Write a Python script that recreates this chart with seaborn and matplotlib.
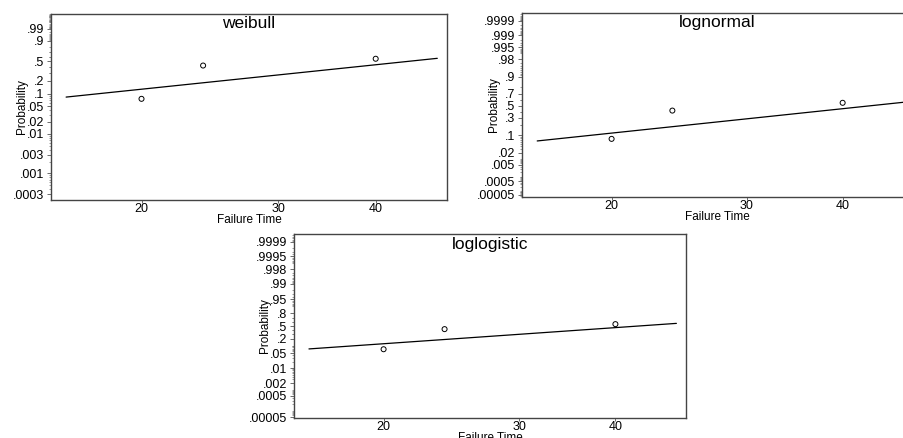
import math
import numpy as np
import pandas as pd
import matplotlib
matplotlib.use("Agg")
import matplotlib.pyplot as plt
import matplotlib.ticker as mticker
import seaborn as sns

# observed failure data (same in all three panels)
fail_time = [20, 24, 40]
fail_prob = [0.075, 0.42, 0.555]

# fitted lines, end points
line_time = [16, 48]
weibull_line = [0.0827, 0.564]
lognormal_line = [0.0629, 0.564]
loglogistic_line = [0.0774, 0.575]

weibull_ticks = [.0003, .001, .003, .01, .02, .05, .1, .2, .5, .9, .99]
weibull_labels = [".0003", ".001", ".003", ".01", ".02", ".05", ".1", ".2", ".5", ".9", ".99"]
lognormal_ticks = [.00005, .0005, .005, .02, .1, .3, .5, .7, .9, .98, .995, .999, .9999]
lognormal_labels = [".00005", ".0005", ".005", ".02", ".1", ".3", ".5", ".7", ".9", ".98", ".995", ".999", ".9999"]
loglogistic_ticks = [.00005, .0005, .002, .01, .05, .2, .5, .8, .95, .99, .998, .9995, .9999]
loglogistic_labels = [".00005", ".0005", ".002", ".01", ".05", ".2", ".5", ".8", ".95", ".99", ".998", ".9995", ".9999"]


def norm_ppf(p):
    p = np.clip(np.asarray(p, float), 1e-12, 1 - 1e-12)
    a = [-3.969683028665376e+01, 2.209460984245205e+02, -2.759285104469687e+02,
         1.383577518672690e+02, -3.066479806614716e+01, 2.506628277459239e+00]
    b = [-5.447609879822406e+01, 1.615858368580409e+02, -1.556989798598866e+02,
         6.680131188771972e+01, -1.328068155288572e+01]
    c = [-7.784894002430293e-03, -3.223964580411365e-01, -2.400758277161838e+00,
         -2.549732539343734e+00, 4.374664141464968e+00, 2.938163982698783e+00]
    d = [7.784695709041462e-03, 3.224671290700398e-01, 2.445134137142996e+00,
         3.754408661907416e+00]
    q = np.minimum(p, 1 - p)
    r = np.sqrt(-2 * np.log(q))
    tail = (((((c[0]*r+c[1])*r+c[2])*r+c[3])*r+c[4])*r+c[5]) / ((((d[0]*r+d[1])*r+d[2])*r+d[3])*r+1)
    tail = np.where(p < 0.5, tail, -tail)
    u = p - 0.5
    s = u * u
    cent = (((((a[0]*s+a[1])*s+a[2])*s+a[3])*s+a[4])*s+a[5])*u / (((((b[0]*s+b[1])*s+b[2])*s+b[3])*s+b[4])*s+1)
    return np.where(q < 0.02425, tail, cent)


_erf = np.vectorize(math.erf)


def norm_cdf(z):
    return 0.5 * (1 + _erf(np.asarray(z, float) / math.sqrt(2)))


def weib_fwd(p):
    p = np.clip(np.asarray(p, float), 1e-12, 1 - 1e-12)
    return np.log(-np.log1p(-p))


def weib_inv(w):
    return -np.expm1(-np.exp(np.asarray(w, float)))


def logit_fwd(p):
    p = np.clip(np.asarray(p, float), 1e-12, 1 - 1e-12)
    return np.log(p / (1 - p))


def logit_inv(z):
    return 1 / (1 + np.exp(-np.asarray(z, float)))


sns.set_style("white")
plt.rcParams["font.family"] = ["Liberation Sans", "DejaVu Sans"]
plt.rcParams["text.color"] = "black"
plt.rcParams["xtick.color"] = "black"
plt.rcParams["ytick.color"] = "black"
plt.rcParams["axes.labelcolor"] = "black"

W, H = 904, 438
fig = plt.figure(figsize=(W / 100, H / 100), dpi=100)


def px_axes(left, top, right, bottom):
    return fig.add_axes([left / W, (H - bottom) / H, (right - left) / W, (bottom - top) / H])


minor_p = sorted(set([k * 10.0 ** e for e in range(-5, 0) for k in range(1, 10)] +
                     [1 - k * 10.0 ** e for e in range(-5, 0) for k in range(1, 10)]))

panels = [
    ("weibull", (51, 14, 447, 200), (weib_fwd, weib_inv), (2.12e-4, 0.999984),
     weibull_line, weibull_ticks, weibull_labels),
    ("lognormal", (522.3, 12.7, 913, 196.7), (norm_ppf, norm_cdf), (3.6e-5, 0.9999775),
     lognormal_line, lognormal_ticks, lognormal_labels),
    ("loglogistic", (294, 234.3, 686, 417.7), (logit_fwd, logit_inv), (4.7e-5, 0.9999546),
     loglogistic_line, loglogistic_ticks, loglogistic_labels),
]

for name, box, funcs, ylim, fit, ticks, labels in panels:
    ax = px_axes(*box)
    ax.set_xscale("log")
    ax.set_yscale("function", functions=funcs)

    sns.lineplot(x=line_time, y=fit, ax=ax, color="black", linewidth=0.9)
    sns.scatterplot(x=fail_time, y=fail_prob, ax=ax, marker="o", s=13,
                    facecolor="none", edgecolor="black", linewidth=0.7)

    ax.set_xlim(15.3, 49.4)
    ax.set_ylim(*ylim)
    ax.xaxis.set_major_locator(mticker.FixedLocator([20, 30, 40]))
    ax.xaxis.set_major_formatter(mticker.FixedFormatter(["20", "30", "40"]))
    ax.xaxis.set_minor_locator(mticker.NullLocator())
    ax.yaxis.set_major_locator(mticker.FixedLocator(ticks))
    ax.yaxis.set_major_formatter(mticker.FixedFormatter(labels))
    ax.yaxis.set_minor_locator(mticker.FixedLocator([m for m in minor_p if ylim[0] < m < ylim[1]]))
    ax.yaxis.set_minor_formatter(mticker.NullFormatter())

    ax.tick_params(axis="y", which="major", length=3, width=0.6, color="#555555",
                   pad=2, labelsize=9, left=True)
    ax.tick_params(axis="y", which="minor", length=1.5, width=0.5, color="#777777", left=True)
    ax.tick_params(axis="x", which="major", length=2, width=0.6, color="#555555",
                   pad=0.5, labelsize=9, bottom=True)
    for sp in ax.spines.values():
        sp.set_color("#444444")
        sp.set_linewidth(1.0)

    height = box[3] - box[1]
    ax.set_xlabel("Failure Time", fontsize=8.5)
    ax.xaxis.set_label_coords(0.5, -14 / height)
    ax.set_ylabel("Probability", fontsize=8.5)
    ax.yaxis.set_label_coords(-22.5 / (box[2] - box[0]), 0.5)
    ax.text(0.5, 1 - 2.5 / height, name, transform=ax.transAxes, ha="center", va="top",
            fontsize=12.5)

fig.savefig("out.png", dpi=100)
